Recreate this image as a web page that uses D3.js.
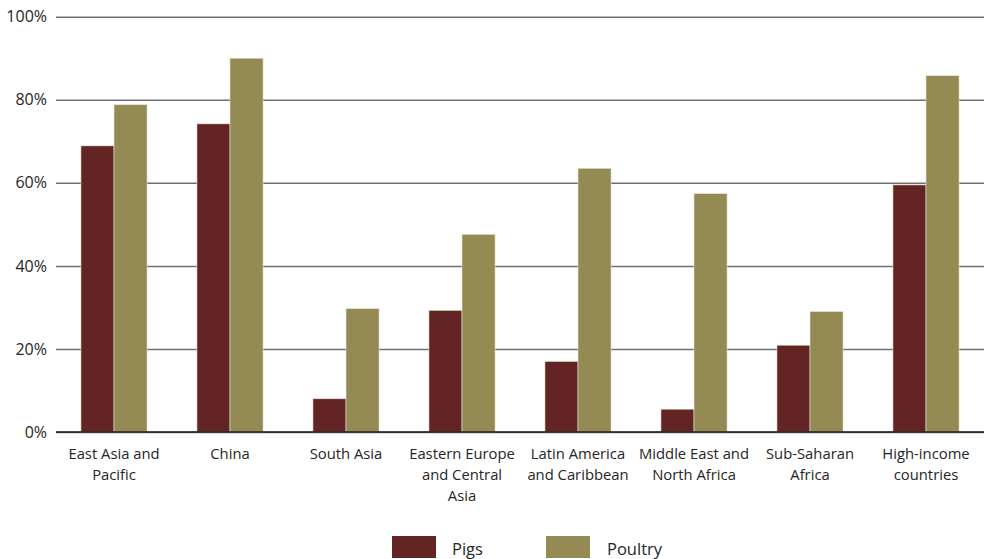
<!DOCTYPE html>
<html><head><meta charset="utf-8">
<script src="https://cdn.jsdelivr.net/npm/d3@7"></script>
<style>body{margin:0;background:#fff;} text{font-family:"Open Sans","Noto Sans",sans-serif;fill:#262626;}</style>
</head><body><svg id="c" width="984" height="559"></svg>
<script>
const categories = ["East Asia and|Pacific","China","South Asia","Eastern Europe|and Central|Asia","Latin America|and Caribbean","Middle East and|North Africa","Sub-Saharan|Africa","High-income|countries"];
const seriesNames = ["Pigs","Poultry"];
const pigs = [68.9,74.2,8.0,29.3,17.0,5.5,20.9,59.5];
const poultry = [78.8,90.0,29.7,47.6,63.5,57.4,29.0,85.8];
const yTicks = [0,20,40,60,80,100];
const colors = ["#632523","#948A54"];

(function(){
const svg = d3.select("#c");
const mLeft=56, mRight=984, mTop=16.7, mBottom=432;
const x = d3.scaleBand().domain(categories).range([mLeft,mRight]).paddingInner(0.43).paddingOuter(0.215);
const x0 = d3.scaleBand().domain(categories).range([mLeft,mRight]);
const xs = d3.scaleBand().domain(seriesNames).range([0,x.bandwidth()]);
const y = d3.scaleLinear().domain([0,100]).range([mBottom,mTop]);

const yAxis = d3.axisLeft(y).tickValues(yTicks).tickSize(-(mRight-mLeft)).tickFormat(d=>d+"%");
const ga = svg.append("g").attr("transform",`translate(${mLeft},0)`).call(yAxis);
ga.select(".domain").remove();
ga.selectAll(".tick line").attr("stroke","#707070").attr("stroke-width",1.5);
ga.selectAll(".tick text").attr("x",-9).attr("font-size",16).attr("fill","#262626").attr("font-family",null);

const data = [pigs,poultry];
seriesNames.forEach((s,si)=>{
  svg.append("g").selectAll("rect").data(categories).join("rect")
    .attr("x",(d)=>x(d)+xs(s))
    .attr("width",xs.bandwidth())
    .attr("y",(d,i)=>y(data[si][i]))
    .attr("height",(d,i)=>y(0)-y(data[si][i]))
    .attr("fill",colors[si])
    .attr("stroke","#e8e4d8").attr("stroke-width",0.6);
});

svg.append("line").attr("x1",mLeft).attr("x2",mRight).attr("y1",y(0)).attr("y2",y(0)).attr("stroke","#1a1a1a").attr("stroke-width",1.5);

const lab = svg.append("g");
categories.forEach(c=>{
  const cx = x0(c)+x0.bandwidth()/2;
  const t = lab.append("text").attr("text-anchor","middle").attr("font-size",14.8).attr("x",cx).attr("y",458.5);
  c.split("|").forEach((ln,i)=>{
    t.append("tspan").attr("x",cx).attr("dy",i?21:0).text(ln);
  });
});

const lg = [{rx:392,tx:452},{rx:546,tx:607}];
lg.forEach((l,i)=>{
  svg.append("rect").attr("x",l.rx).attr("y",536).attr("width",44).attr("height",22).attr("fill",colors[i]);
  svg.append("text").attr("x",l.tx).attr("y",554.5).attr("font-size",16.5).text(seriesNames[i]);
});
})();
</script></body></html>
